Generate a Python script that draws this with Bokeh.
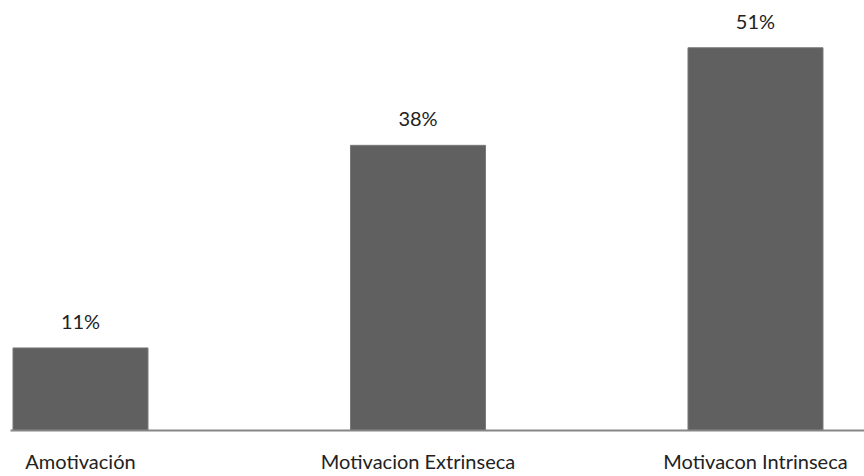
from bokeh.plotting import figure
from bokeh.models import Range1d, ColumnDataSource
from bokeh.embed import file_html
from bokeh.resources import INLINE
from bokeh.core.properties import value

# Motivation type shares (%)
categories = ["Amotivación", "Motivacion Extrinseca", "Motivacon Intrinseca"]
shares = [11, 38, 51]
share_labels = ["11%", "38%", "51%"]

positions = [i + 0.5 for i in range(len(categories))]

source = ColumnDataSource(dict(x=positions, top=shares, label=share_labels))

FONT = "Lato"

p = figure(
    width=864, height=476,
    x_range=Range1d(0.2926, 2.823),
    y_range=Range1d(0, 57.3),
    output_backend="svg", toolbar_location=None,
    min_border_left=10, min_border_right=0,
    min_border_top=0, min_border_bottom=46,
)

p.vbar(x="x", top="top", bottom=0, width=0.4, source=source,
       fill_color="#606060", line_color="#7a7a7a", line_width=1)

p.text(x="x", y="top", text="label", source=source,
       text_align="center", text_baseline="bottom", y_offset=-15,
       text_font=value(FONT), text_font_size="20px", text_color="#222222")

p.yaxis.visible = False
p.xgrid.visible = False
p.ygrid.visible = False
p.outline_line_color = None

xa = p.xaxis[0]
xa.ticker = positions
xa.major_label_overrides = {pos: name for pos, name in zip(positions, categories)}
xa.axis_line_color = "#868686"
xa.axis_line_width = 2
xa.major_tick_line_color = None
xa.minor_tick_line_color = None
xa.major_label_standoff = 12
xa.major_label_text_font = FONT
xa.major_label_text_font_size = "20px"
xa.major_label_text_color = "#222222"

open("out.html", "w").write(file_html(p, INLINE))
